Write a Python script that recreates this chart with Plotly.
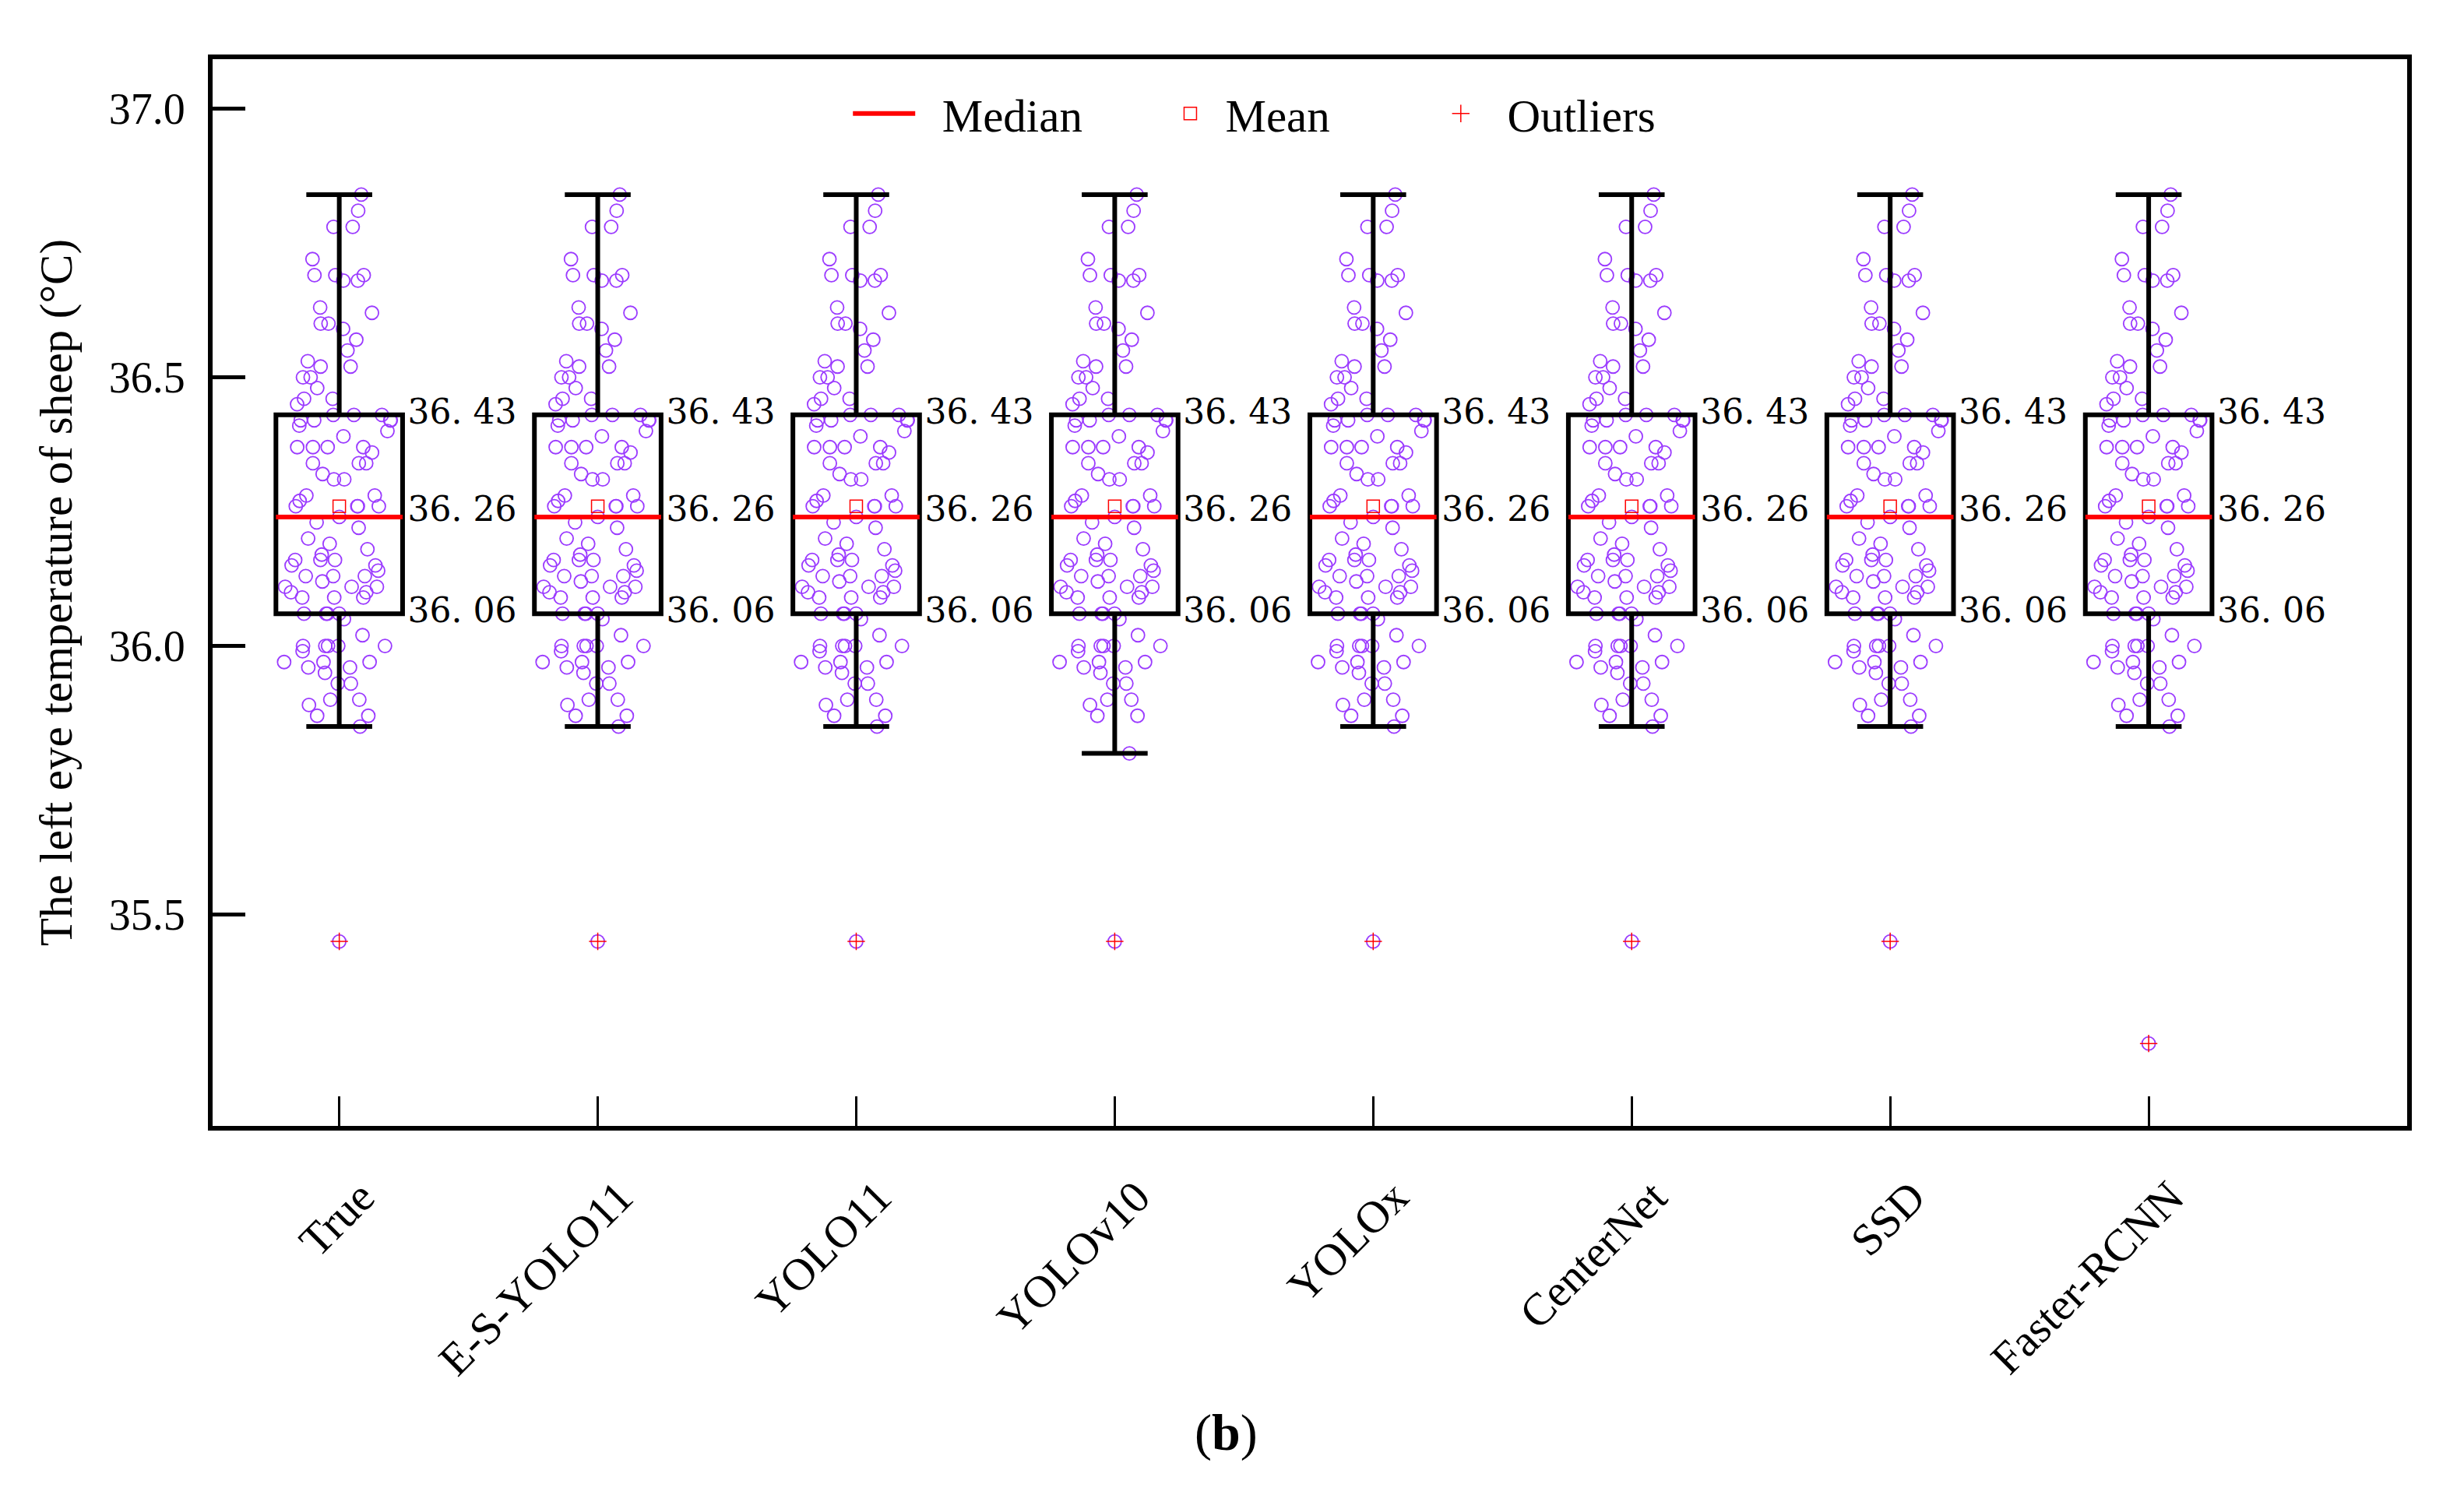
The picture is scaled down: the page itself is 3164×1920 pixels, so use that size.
import plotly.graph_objects as go

# categories (x axis)
models = ["True", "E-S-YOLO11", "YOLO11", "YOLOv10", "YOLOx", "CenterNet", "SSD", "Faster-RCNN"]

# box statistics
q1 = [36.06, 36.06, 36.06, 36.06, 36.06, 36.06, 36.06, 36.06]
median = [36.24, 36.24, 36.24, 36.24, 36.24, 36.24, 36.24, 36.24]
q3 = [36.43, 36.43, 36.43, 36.43, 36.43, 36.43, 36.43, 36.43]
mean = [36.26, 36.26, 36.26, 36.26, 36.26, 36.26, 36.26, 36.26]
upper_whisker = [36.84, 36.84, 36.84, 36.84, 36.84, 36.84, 36.84, 36.84]
lower_whisker = [35.85, 35.85, 35.85, 35.80, 35.85, 35.85, 35.85, 35.85]
outliers = [35.45, 35.45, 35.45, 35.45, 35.45, 35.45, 35.45, 35.26]

# individual temperatures (same sample drawn in every box)
base_temps = [
    36.84, 36.81, 36.78, 36.78, 36.72, 36.69, 36.69, 36.69, 36.68, 36.68,
    36.63, 36.62, 36.60, 36.60, 36.59, 36.57, 36.55, 36.53, 36.52, 36.52,
    36.50, 36.50, 36.48, 36.46, 36.46, 36.45, 36.43, 36.43, 36.43, 36.42,
    36.42, 36.42, 36.42, 36.41, 36.40, 36.39, 36.37, 36.37, 36.37, 36.37,
    36.36, 36.34, 36.34, 36.34, 36.32, 36.31, 36.31, 36.28, 36.28, 36.27,
    36.26, 36.26, 36.26, 36.26, 36.24, 36.23, 36.22, 36.20, 36.19, 36.18,
    36.17, 36.16, 36.16, 36.16, 36.15, 36.15, 36.14, 36.13, 36.13, 36.13,
    36.12, 36.11, 36.11, 36.11, 36.10, 36.10, 36.09, 36.09, 36.09, 36.06,
    36.06, 36.06, 36.06, 36.05, 36.02, 36.00, 36.00, 36.00, 36.00, 36.00,
    35.99, 35.97, 35.97, 35.97, 35.96, 35.96, 35.95, 35.93, 35.93, 35.90,
    35.90, 35.89, 35.87, 35.87, 35.85,
]
yolov10_temps = base_temps[:-1] + [35.80]
model_temps = [base_temps, base_temps, base_temps, yolov10_temps,
               base_temps, base_temps, base_temps, base_temps]

POINT = "#9B3BFF"
RED = "#FF0000"
SERIF = "Liberation Serif, Times New Roman, serif"
BOX_W = 0.49
NB = "\u00a0"  # non-breaking space used to pad legend entries

xs = list(range(len(models)))
fig = go.Figure()

# jittered raw points, one trace each so every box gets the same jitter pattern
for i, temps in enumerate(model_temps):
    fig.add_trace(go.Box(
        x=[i] * len(temps), y=temps, boxpoints="all", jitter=1.0, pointpos=0,
        width=BOX_W, whiskerwidth=0, fillcolor="rgba(0,0,0,0)",
        line=dict(width=0, color="rgba(0,0,0,0)"),
        marker=dict(symbol="circle-open", size=17, color=POINT, line=dict(width=1.8)),
        showlegend=False, hoverinfo="y"))

# boxes from precomputed stats
fig.add_trace(go.Box(
    x=xs, q1=q1, median=median, q3=q3, lowerfence=lower_whisker, upperfence=upper_whisker,
    width=BOX_W, whiskerwidth=0.52, boxpoints=False, fillcolor="rgba(0,0,0,0)",
    line=dict(width=6, color="black"), showlegend=False))

# red median lines
med_x, med_y = [], []
for i, m in zip(xs, median):
    med_x += [i - BOX_W / 2, i + BOX_W / 2, None]
    med_y += [m, m, None]
fig.add_trace(go.Scatter(x=med_x, y=med_y, mode="lines", name=NB * 2 + "Median" + NB * 6,
                         line=dict(color=RED, width=6)))

fig.add_trace(go.Scatter(x=xs, y=mean, mode="markers", name="Mean" + NB * 8,
                         marker=dict(symbol="square-open", size=16, color=RED, line=dict(width=1.5))))

fig.add_trace(go.Scatter(x=xs, y=outliers, mode="markers", showlegend=False,
                         marker=dict(symbol="circle-open", size=17, color=POINT, line=dict(width=1.8))))
fig.add_trace(go.Scatter(x=xs, y=outliers, mode="markers", name=NB + "Outliers",
                         marker=dict(symbol="cross-thin-open", size=16, color=RED, line=dict(width=1.5, color=RED))))

# value labels to the right of each box
fmt = lambda v: f"{v:.2f}".replace(".", ". ")
lab_x, lab_y, lab_t = [], [], []
for i in xs:
    lab_x += [i + BOX_W / 2 + 0.02] * 3
    lab_y += [q3[i], median[i] + 0.008, q1[i]]
    lab_t += [fmt(q3[i]), fmt(mean[i]), fmt(q1[i])]
fig.add_trace(go.Scatter(x=lab_x, y=lab_y, text=lab_t, mode="text", textposition="middle right",
                         textfont=dict(family="DejaVu Serif, serif", size=44, color="black"),
                         showlegend=False, hoverinfo="skip"))

fig.add_annotation(text="(<b>b</b>)", x=0.4617, y=-0.2875, xref="paper", yref="paper",
                   xanchor="center", yanchor="middle", showarrow=False,
                   font=dict(family=SERIF, size=66, color="black"))

fig.update_layout(
    width=3156, height=1912,
    margin=dict(l=265, r=73, t=68, b=474),
    paper_bgcolor="white", plot_bgcolor="white",
    font=dict(family=SERIF, size=56, color="black"),
    legend=dict(orientation="h", x=0.290, xanchor="left", y=0.949, yanchor="middle",
                bgcolor="rgba(0,0,0,0)", font=dict(family=SERIF, size=59),
                itemwidth=80, traceorder="normal"),
    xaxis=dict(range=[-0.49, 8.0], tickmode="array", tickvals=xs, ticktext=models,
               tickangle=-45, ticks="inside", ticklen=38, tickwidth=3, tickcolor="black",
               showline=True, linewidth=6, linecolor="black", mirror=True,
               showgrid=False, zeroline=False, ticklabelstandoff=28, ticklabelshift=28,
               tickfont=dict(family=SERIF, size=58)),
    yaxis=dict(range=[35.1066, 37.0921], tickvals=[35.5, 36.0, 36.5, 37.0], ticktext=["35.5", "36.0", "36.5", "37.0"],
               ticks="inside", ticklen=42, tickwidth=5, tickcolor="black",
               showline=True, linewidth=6, linecolor="black", mirror=True,
               showgrid=False, zeroline=False, ticklabelstandoff=18,
               tickfont=dict(family=SERIF, size=56),
               title=dict(text="The left eye temperature of sheep (°C)", standoff=30,
                          font=dict(family=SERIF, size=59))),
    showlegend=True,
)

fig.write_html("out.html")
